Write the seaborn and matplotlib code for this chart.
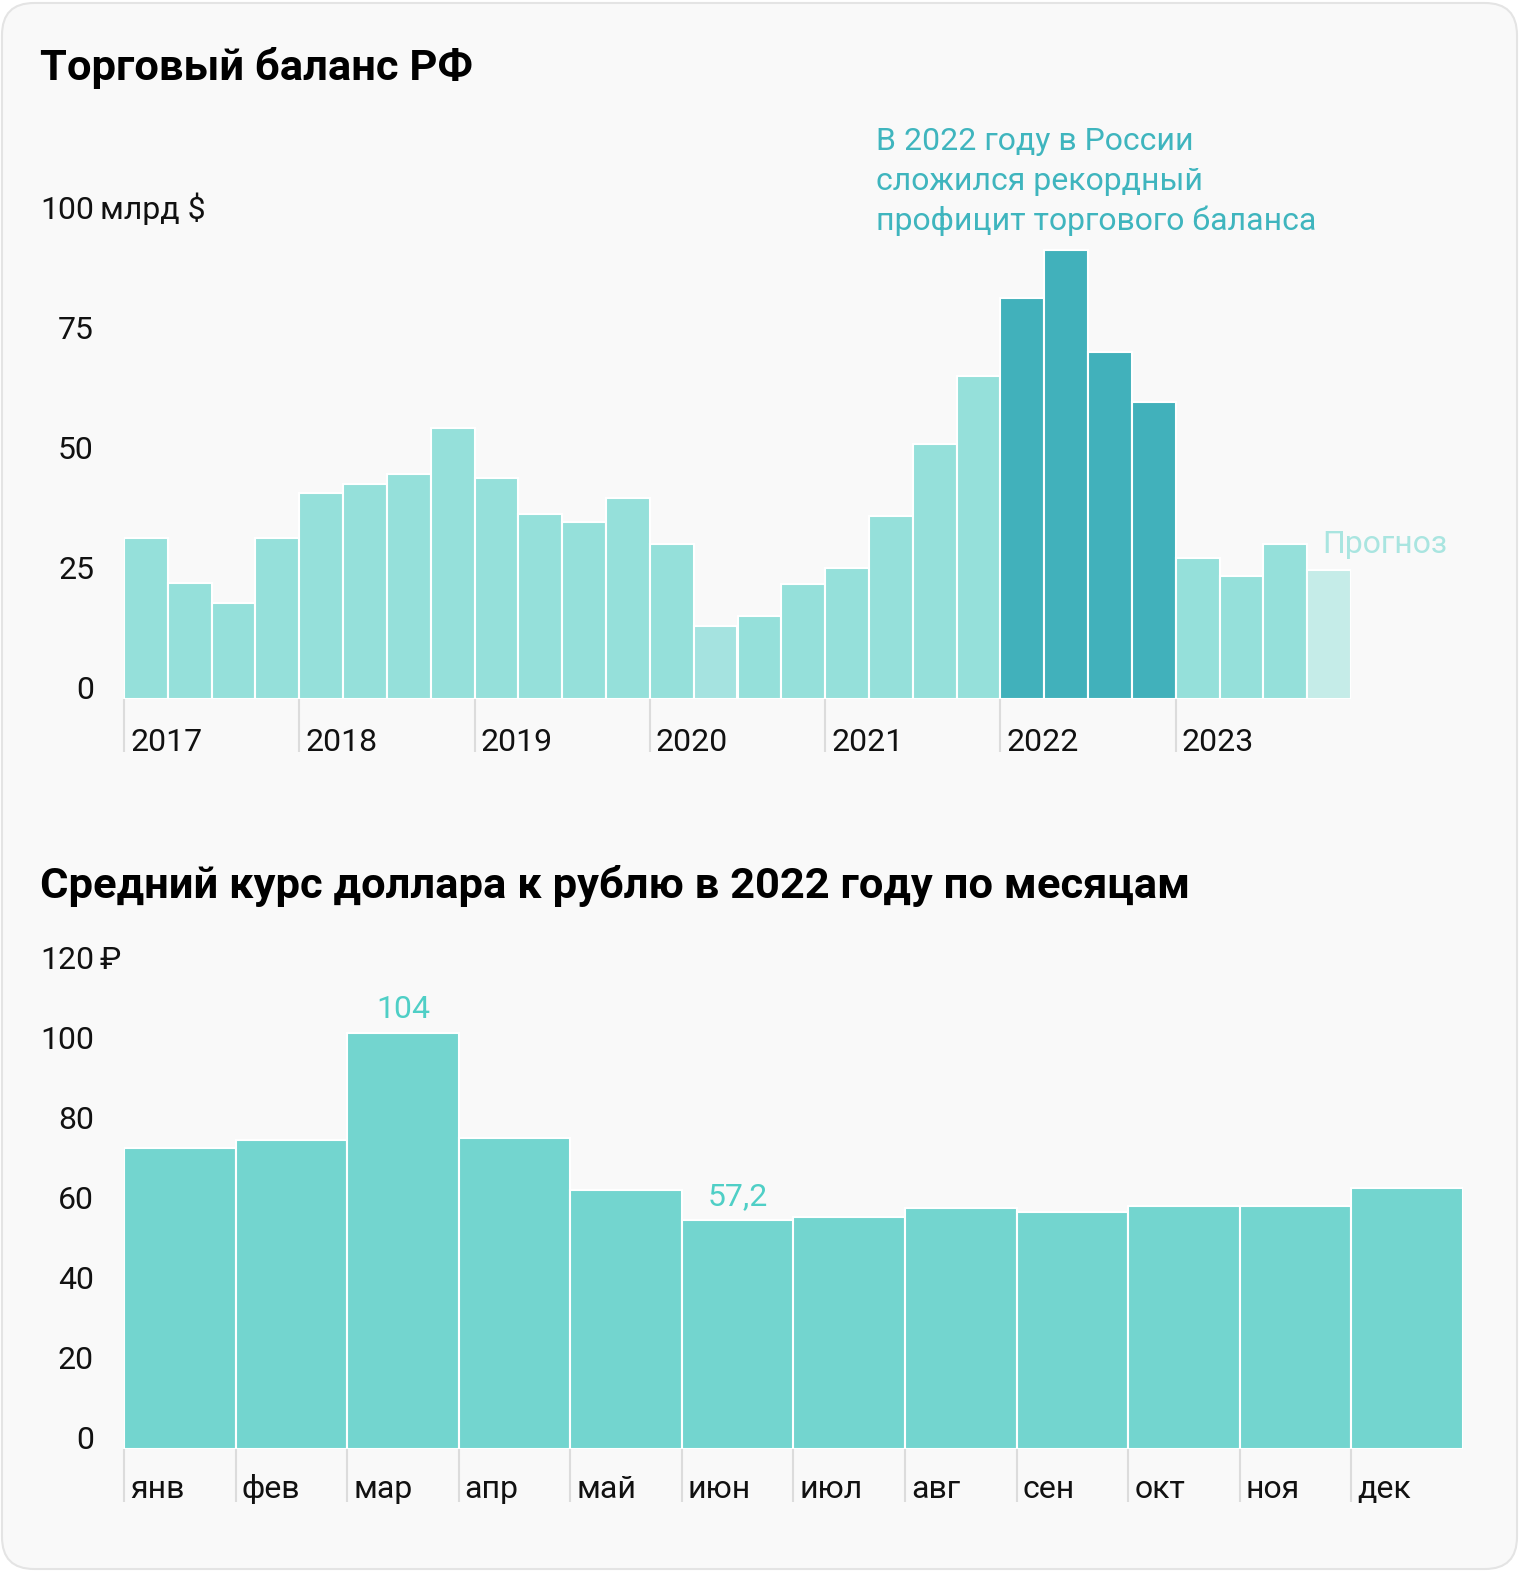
import matplotlib.pyplot as plt
import pandas as pd
import seaborn as sns
from matplotlib.patches import FancyBboxPatch
from matplotlib.transforms import blended_transform_factory, ScaledTranslation

# Торговый баланс РФ по кварталам, млрд $
years = ["2017", "2018", "2019", "2020", "2021", "2022", "2023"]
quarters = [f"{y} Q{q}" for y in years for q in range(1, 5)]
balance = [33.5, 24.2, 20.0, 33.5,
           42.9, 44.8, 46.9, 56.5,
           46.0, 38.5, 36.9, 41.9,
           32.3, 15.2, 17.3, 24.0,
           27.3, 38.1, 53.1, 67.3,
           83.5, 93.5, 72.3, 61.9,
           29.4, 25.6, 32.3, 26.9]
balance_ticks = [0, 25, 50, 75, 100]
note_lines = ["В 2022 году в России", "сложился рекордный", "профицит торгового баланса"]

# Средний курс доллара в 2022 году, ₽
months = ["янв", "фев", "мар", "апр", "май", "июн", "июл", "авг", "сен", "окт", "ноя", "дек"]
usd_rub = [75.3, 77.3, 104.0, 77.8, 64.8, 57.2, 58.0, 60.3, 59.3, 60.8, 60.8, 65.3]
rub_ticks = [0, 20, 40, 60, 80, 100, 120]
labeled_months = {"мар": "104", "июн": "57,2"}

W, H = 1520, 1572
BG = "#f9f9f9"
LIGHT = "#95e0da"
DARK = "#41b1bb"
PALE = "#a5e3e0"
FORECAST = "#c5ece8"
MONTH_COLOR = "#73d5cf"
TICK_GREY = "#dcdcdc"
FONT = ["Roboto", "DejaVu Sans"]


def fx(px):
    return px / W


def fy(py):
    return 1 - py / H


def quarter_color(q):
    if q.startswith("2022"):
        return DARK
    if q == "2020 Q2":
        return PALE
    if q == "2023 Q4":
        return FORECAST
    return LIGHT


def style_axis(ax, n, step, ylim):
    ax.set_ylim(*ylim)
    ax.set_xlim(-0.5, n - 0.5)
    ax.set_facecolor("none")
    for s in ax.spines.values():
        s.set_visible(False)
    ax.set_yticks([])
    ax.set_xlabel("")
    ax.set_ylabel("")
    edges = [i - 0.5 for i in range(0, n, step)]
    ax.set_xticks(edges)
    ax.set_xticklabels([])
    ax.xaxis.set_ticks_position("bottom")
    ax.tick_params(axis="x", bottom=True, length=38, width=1.5, color=TICK_GREY, direction="out")
    # подписи справа от засечек
    trans = blended_transform_factory(ax.transData, ax.figure.transFigure) + \
        ScaledTranslation(0.06, 0, ax.figure.dpi_scale_trans)
    return edges, trans


def y_labels(fig, ax, ticks, unit):
    trans = blended_transform_factory(fig.transFigure, ax.transData)
    for t in ticks:
        ax.text(fx(94), t, str(t), transform=trans, ha="right", va="baseline",
                fontsize=23, color="#111111", family=FONT)
    ax.text(fx(100), ticks[-1], unit, transform=trans, ha="left", va="baseline",
            fontsize=23, color="#111111", family=FONT)


def main():
    sns.set_style("white")
    plt.rcParams["font.family"] = FONT

    fig = plt.figure(figsize=(W / 100, H / 100), dpi=100, facecolor="white")
    card = FancyBboxPatch((2, 3), W - 5, H - 6, boxstyle="round,pad=0,rounding_size=32",
                          transform=None, facecolor=BG, edgecolor="#e4e4e4", linewidth=1.5, zorder=-10)
    fig.add_artist(card)

    # --- верхний график ---
    ax1 = fig.add_axes([fx(124), fy(699), (1351 - 124) / W, 480 / H])
    df1 = pd.DataFrame({"quarter": quarters, "value": balance})
    palette1 = {q: quarter_color(q) for q in quarters}
    sns.barplot(data=df1, x="quarter", y="value", hue="quarter", palette=palette1, order=quarters,
                width=1, saturation=1, edgecolor="white", linewidth=1.5, legend=False, ax=ax1)
    edges, trans = style_axis(ax1, len(quarters), 4, (0, 100))
    for e, y in zip(edges, years):
        ax1.text(e, fy(751), y, transform=trans, ha="left", va="baseline", fontsize=23,
                 color="#111111", family=FONT)
    y_labels(fig, ax1, balance_ticks, "млрд $")

    fig.text(fx(40), fy(80), "Торговый баланс РФ", fontsize=31.3, weight="bold",
             color="black", family=FONT, va="baseline")
    for k, line in enumerate(note_lines):
        fig.text(fx(876), fy(150 + 40 * k), line, fontsize=23, color="#3fb5be",
                 family=FONT, va="baseline")
    ax1.annotate("Прогноз", xy=(len(quarters) - 1, balance[-1]), xytext=(-5, 12),
                 textcoords="offset points", ha="left", va="baseline", fontsize=23,
                 color="#a9e5e0", family=FONT, annotation_clip=False)

    # --- нижний график ---
    ax2 = fig.add_axes([fx(124), fy(1449), (1463 - 124) / W, 480 / H])
    df2 = pd.DataFrame({"month": months, "rate": usd_rub})
    sns.barplot(data=df2, x="month", y="rate", color=MONTH_COLOR, order=months,
                width=1, saturation=1, edgecolor="white", linewidth=1.5, ax=ax2)
    edges, trans = style_axis(ax2, len(months), 1, (0, 120))
    for e, m in zip(edges, months):
        ax2.text(e, fy(1498), m, transform=trans, ha="left", va="baseline", fontsize=23,
                 color="#111111", family=FONT)
    y_labels(fig, ax2, rub_ticks, "₽")
    for i, m in enumerate(months):
        if m in labeled_months:
            ax2.annotate(labeled_months[m], xy=(i, usd_rub[i]), xytext=(0, 11),
                         textcoords="offset points", ha="center", va="baseline",
                         fontsize=23, color="#4fcfc6", family=FONT, annotation_clip=False)

    fig.text(fx(40), fy(898), "Средний курс доллара к рублю в 2022 году по месяцам", fontsize=31.3,
             weight="bold", color="black", family=FONT, va="baseline")

    fig.savefig("out.png", dpi=100, facecolor="white")


if __name__ == "__main__":
    main()
